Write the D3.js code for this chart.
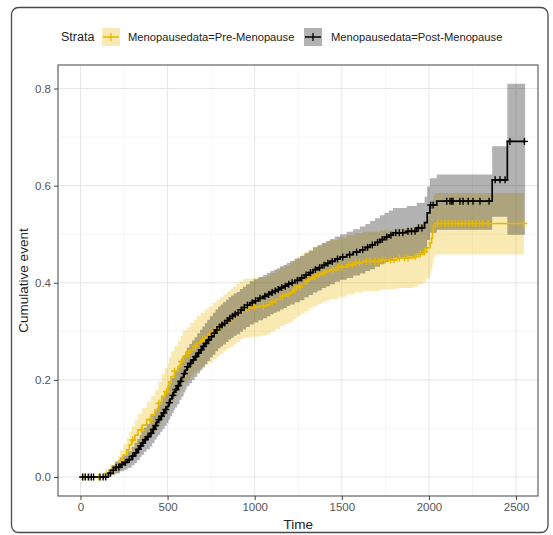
<!DOCTYPE html>
<html>
<head>
<meta charset="utf-8">
<script src="https://cdn.jsdelivr.net/npm/d3@7"></script>
<style>
  html, body { margin: 0; padding: 0; background: #fff; }
  svg { display: block; font-family: "Liberation Sans", Arial, sans-serif; }
</style>
</head>
<body>
<svg id="chart" width="553" height="535"></svg>
<script>
// Cumulative event curves by menopause status, with confidence bands and censoring marks.

const strata = ["Menopausedata=Pre-Menopause", "Menopausedata=Post-Menopause"];
const strataColors = ["#E7B800", "#000000"];

// Pre-Menopause: step times, estimate, lower and upper confidence limits
const preTime = [0, 140, 169, 195, 215, 227, 245, 265, 280, 294, 312, 330, 355, 380, 405, 428, 448, 466, 484, 502, 508, 520, 540, 560, 575, 588,
  610, 630, 650, 667, 690, 712, 735, 760, 782, 800, 820, 840, 858, 875, 895, 915, 933, 980, 1030, 1069, 1090, 1120, 1146, 1175, 1203,
  1220, 1241, 1265, 1290, 1312, 1335, 1360, 1385, 1410, 1432, 1480, 1528, 1575, 1622, 1719, 1815, 1909, 1940, 1967, 1986, 2006, 2015,
  2020, 2025, 2035, 2545];
const preEst = [0, .007, .014, .020, .027, .035, .045, .056, .066, .076, .086, .097, .107, .118, .128, .138, .152, .166, .176, .186, .196, .207, .218, .228, .238, .248,
  .255, .262, .269, .276, .282, .288, .294, .301, .307, .312, .318, .323, .328, .333, .338, .343, .348, .350, .352, .355, .360, .366, .372, .376, .380,
  .386, .392, .398, .403, .408, .413, .417, .421, .424, .427, .432, .437, .441, .444, .447, .451, .454, .459, .464, .472, .482, .492,
  .503, .516, .522, .522];
const preLower = [0, .000, .003, .006, .010, .015, .022, .031, .039, .047, .055, .064, .072, .081, .089, .097, .108, .120, .128, .137, .146, .155, .166, .176, .185, .194,
  .201, .207, .214, .220, .225, .231, .236, .243, .248, .253, .259, .264, .268, .273, .278, .283, .287, .289, .291, .294, .299, .305, .311, .315, .319,
  .325, .331, .337, .342, .347, .352, .356, .360, .363, .366, .371, .376, .380, .383, .386, .389, .392, .397, .401, .409, .419, .428,
  .439, .451, .458, .458];
const preUpper = [0, .016, .026, .034, .044, .055, .068, .081, .093, .105, .117, .130, .142, .155, .167, .179, .196, .212, .224, .235, .246, .259, .270, .281, .291, .302,
  .309, .317, .324, .332, .338, .345, .351, .359, .365, .370, .376, .382, .387, .392, .398, .403, .408, .410, .412, .415, .420, .426, .432, .436, .441,
  .447, .453, .459, .464, .469, .474, .478, .482, .485, .488, .493, .498, .502, .505, .508, .512, .516, .521, .527, .535, .545, .556,
  .567, .580, .585, .585];
const preCensor = [20, 50, 105, 180, 240, 300, 350, 400, 450, 495, 540, 580, 620, 660, 700, 745, 790, 830, 870, 910, 950, 1000, 1050, 1100,
  1160, 1190, 1230, 1260, 1300, 1345, 1370, 1400, 1450, 1480, 1500, 1540, 1560, 1580, 1600, 1640, 1660, 1690, 1710, 1730, 1750, 1780,
  1800, 1830, 1860, 1880, 1920, 1950, 1975, 2050, 2070, 2090, 2110, 2130, 2150, 2170, 2190, 2210, 2230, 2250, 2270, 2290, 2310, 2340, 2545];

// Post-Menopause
const postTime = [0, 160, 178, 200, 227, 250, 270, 294, 310, 325, 340, 351, 365, 380, 399, 412, 425, 437, 445, 458, 470, 483, 495, 505, 515, 525,
  535, 542, 555, 568, 580, 592, 602, 610, 625, 640, 655, 670, 686, 700, 714, 728, 743, 760, 775, 790, 805, 818, 835, 850, 865, 880, 897,
  915, 932, 950, 972, 995, 1020, 1048, 1070, 1090, 1110, 1126, 1145, 1165, 1185, 1203, 1230, 1260, 1285, 1310, 1335, 1360, 1385, 1410,
  1432, 1460, 1490, 1528, 1565, 1604, 1635, 1662, 1690, 1719, 1745, 1770, 1794, 1873, 1930, 1975, 1990, 2006, 2045, 2363, 2450, 2552];
const postEst = [0, .008, .014, .020, .026, .030, .036, .043, .050, .057, .064, .070, .077, .083, .090, .098, .106, .113, .118, .125, .132, .139, .145, .153, .161, .168,
  .175, .180, .188, .197, .205, .213, .220, .227, .234, .241, .248, .255, .262, .269, .275, .282, .289, .296, .303, .309, .313, .317, .322, .327, .331, .335, .338,
  .344, .349, .354, .359, .363, .368, .372, .376, .380, .383, .386, .390, .393, .397, .400, .405, .410, .416, .421, .427, .431, .436, .440,
  .444, .449, .453, .458, .463, .468, .473, .478, .483, .489, .494, .498, .503, .506, .513, .524, .544, .560, .568, .612, .691, .691];
const postLower = [0, .001, .004, .008, .012, .015, .019, .024, .029, .035, .041, .046, .052, .057, .063, .070, .077, .083, .087, .093, .099, .105, .111, .118, .125, .132,
  .138, .143, .150, .159, .166, .174, .180, .187, .193, .200, .206, .213, .220, .226, .232, .239, .246, .252, .259, .265, .269, .273, .278, .283, .287, .291, .294,
  .299, .304, .309, .314, .318, .323, .327, .331, .335, .338, .341, .345, .348, .352, .355, .360, .364, .370, .375, .380, .384, .389, .393,
  .397, .402, .406, .410, .415, .419, .424, .428, .433, .438, .443, .447, .451, .454, .460, .470, .488, .503, .509, .536, .499, .499];
const postUpper = [0, .016, .024, .032, .040, .045, .053, .062, .071, .079, .087, .094, .102, .109, .117, .126, .135, .143, .148, .156, .164, .172, .178, .187, .196, .204,
  .211, .216, .225, .235, .243, .252, .259, .266, .274, .281, .288, .296, .303, .310, .317, .324, .331, .338, .345, .351, .355, .360, .365, .370, .374, .378, .381,
  .387, .392, .397, .403, .407, .412, .416, .420, .424, .427, .430, .434, .437, .441, .445, .450, .455, .461, .466, .473, .477, .482, .486,
  .490, .495, .500, .505, .510, .516, .521, .527, .533, .539, .544, .549, .554, .558, .565, .577, .598, .615, .623, .681, .810, .810];
const postCensor = [12, 28, 45, 62, 75, 112, 130, 145, 172, 188, 205, 220, 238, 258, 280, 300, 318, 333, 346, 358, 372, 388, 405, 418, 432, 450,
  465, 478, 490, 510, 530, 548, 562, 575, 596, 615, 632, 648, 662, 678, 693, 707, 720, 735, 752, 768, 783, 798, 812, 828, 843, 858, 872, 888,
  905, 922, 940, 958, 985, 1005, 1030, 1058, 1080, 1100, 1118, 1135, 1155, 1175, 1195, 1215, 1245, 1270, 1295, 1320, 1348, 1372, 1398, 1420,
  1445, 1475, 1505, 1545, 1585, 1620, 1648, 1675, 1705, 1732, 1758, 1782, 1810, 1830, 1850, 1880, 1900, 1920, 1940, 1960, 2010, 2024, 2102,
  2121, 2131, 2138, 2178, 2196, 2225, 2253, 2293, 2345, 2380, 2408, 2437, 2465, 2548];

const xTicks = [0, 500, 1000, 1500, 2000, 2500];
const xMinor = [250, 750, 1250, 1750, 2250];
const yTicks = [0, 0.2, 0.4, 0.6, 0.8];
const yMinor = [0.1, 0.3, 0.5, 0.7];

const groups = [
  { name: strata[0], color: strataColors[0], t: preTime, est: preEst, lo: preLower, hi: preUpper, censor: preCensor },
  { name: strata[1], color: strataColors[1], t: postTime, est: postEst, lo: postLower, hi: postUpper, censor: postCensor }
];

const svg = d3.select("#chart");
const panel = { left: 58, right: 538, top: 65, bottom: 496 };

const x = d3.scaleLinear().domain([-129, 2626]).range([panel.left, panel.right]);
const y = d3.scaleLinear().domain([-0.0391, 0.8484]).range([panel.bottom, panel.top]);

// Outer rounded frame
svg.append("rect")
  .attr("x", 11.5).attr("y", 7.5).attr("width", 536.5).attr("height", 525)
  .attr("rx", 7).attr("fill", "none").attr("stroke", "#4a4a4a").attr("stroke-width", 1.3);

// Grid
const grid = svg.append("g");
grid.selectAll(".xmin").data(xMinor).join("line")
  .attr("x1", d => x(d)).attr("x2", d => x(d)).attr("y1", panel.top).attr("y2", panel.bottom)
  .attr("stroke", "#f2f2f2").attr("stroke-width", 0.8);
grid.selectAll(".ymin").data(yMinor).join("line")
  .attr("y1", d => y(d)).attr("y2", d => y(d)).attr("x1", panel.left).attr("x2", panel.right)
  .attr("stroke", "#f2f2f2").attr("stroke-width", 0.8);
grid.selectAll(".xmaj").data(xTicks).join("line")
  .attr("x1", d => x(d)).attr("x2", d => x(d)).attr("y1", panel.top).attr("y2", panel.bottom)
  .attr("stroke", "#e6e6e6").attr("stroke-width", 1);
grid.selectAll(".ymaj").data(yTicks).join("line")
  .attr("y1", d => y(d)).attr("y2", d => y(d)).attr("x1", panel.left).attr("x2", panel.right)
  .attr("stroke", "#e6e6e6").attr("stroke-width", 1);

// Confidence bands and step curves
const band = d3.area()
  .curve(d3.curveStepAfter)
  .x(d => x(d.t)).y0(d => y(d.lo)).y1(d => y(d.hi));
const stepLine = d3.line()
  .curve(d3.curveStepAfter)
  .x(d => x(d.t)).y(d => y(d.est));

const rows = g => g.t.map((t, i) => ({ t, est: g.est[i], lo: g.lo[i], hi: g.hi[i] }));

groups.forEach(g => {
  svg.append("path").datum(rows(g)).attr("d", band)
    .attr("fill", g.color).attr("fill-opacity", 0.3).attr("stroke", "none");
});

groups.forEach(g => {
  svg.append("path").datum(rows(g)).attr("d", stepLine)
    .attr("fill", "none").attr("stroke", g.color).attr("stroke-width", 1.7);
});

// Censoring marks sit on the step curve
groups.forEach(g => {
  const valueAt = t => {
    const i = Math.max(0, d3.bisectRight(g.t, t) - 1);
    return g.est[i];
  };
  const s = 3.5;
  const marks = svg.append("g").attr("stroke", g.color).attr("stroke-width", 1.4);
  g.censor.forEach(t => {
    const cx = x(t), cy = y(valueAt(t));
    marks.append("line").attr("x1", cx - s).attr("x2", cx + s).attr("y1", cy).attr("y2", cy);
    marks.append("line").attr("x1", cx).attr("x2", cx).attr("y1", cy - s).attr("y2", cy + s);
  });
});

// Panel border
svg.append("rect")
  .attr("x", panel.left).attr("y", panel.top)
  .attr("width", panel.right - panel.left).attr("height", panel.bottom - panel.top)
  .attr("fill", "none").attr("stroke", "#555").attr("stroke-width", 1.1);

// Axes
const xAxis = svg.append("g").attr("transform", `translate(0,${panel.bottom})`)
  .call(d3.axisBottom(x).tickValues(xTicks).tickSize(4).tickPadding(3).tickFormat(d3.format("d")));
const yAxis = svg.append("g").attr("transform", `translate(${panel.left},0)`)
  .call(d3.axisLeft(y).tickValues(yTicks).tickSize(4).tickPadding(3).tickFormat(d3.format(".1f")));
[xAxis, yAxis].forEach(a => {
  a.select(".domain").remove();
  a.selectAll(".tick line").attr("stroke", "#444");
  a.selectAll(".tick text").attr("fill", "#555").style("font-size", "11.5px")
    .style("font-family", "'Liberation Sans', Arial, sans-serif");
});

// Axis titles
svg.append("text").attr("x", x(1250)).attr("y", 524)
  .attr("text-anchor", "middle").attr("dominant-baseline", "central")
  .attr("fill", "#222").style("font-size", "13.5px").text("Time");
svg.append("text")
  .attr("transform", `translate(23,${(panel.top + panel.bottom) / 2}) rotate(-90)`)
  .attr("text-anchor", "middle").attr("dominant-baseline", "central")
  .attr("fill", "#222").style("font-size", "13.5px").text("Cumulative event");

// Legend
const ly = 37;
svg.append("text").attr("x", 61).attr("y", ly).attr("dominant-baseline", "central")
  .attr("fill", "#222").style("font-size", "12.5px").text("Strata");
const keyX = [102, 304];
const labelX = [128, 331];
groups.forEach((g, i) => {
  const k = svg.append("g");
  k.append("rect").attr("x", keyX[i]).attr("y", ly - 9).attr("width", 18).attr("height", 18)
    .attr("fill", g.color).attr("fill-opacity", 0.3);
  k.append("line").attr("x1", keyX[i] + 1).attr("x2", keyX[i] + 17).attr("y1", ly).attr("y2", ly)
    .attr("stroke", g.color).attr("stroke-width", 1.5);
  k.append("line").attr("x1", keyX[i] + 9).attr("x2", keyX[i] + 9).attr("y1", ly - 4).attr("y2", ly + 4)
    .attr("stroke", g.color).attr("stroke-width", 1.3);
  svg.append("text").attr("x", labelX[i]).attr("y", ly).attr("dominant-baseline", "central")
    .attr("fill", "#222").style("font-size", "11.2px").text(g.name);
});
</script>
</body>
</html>
